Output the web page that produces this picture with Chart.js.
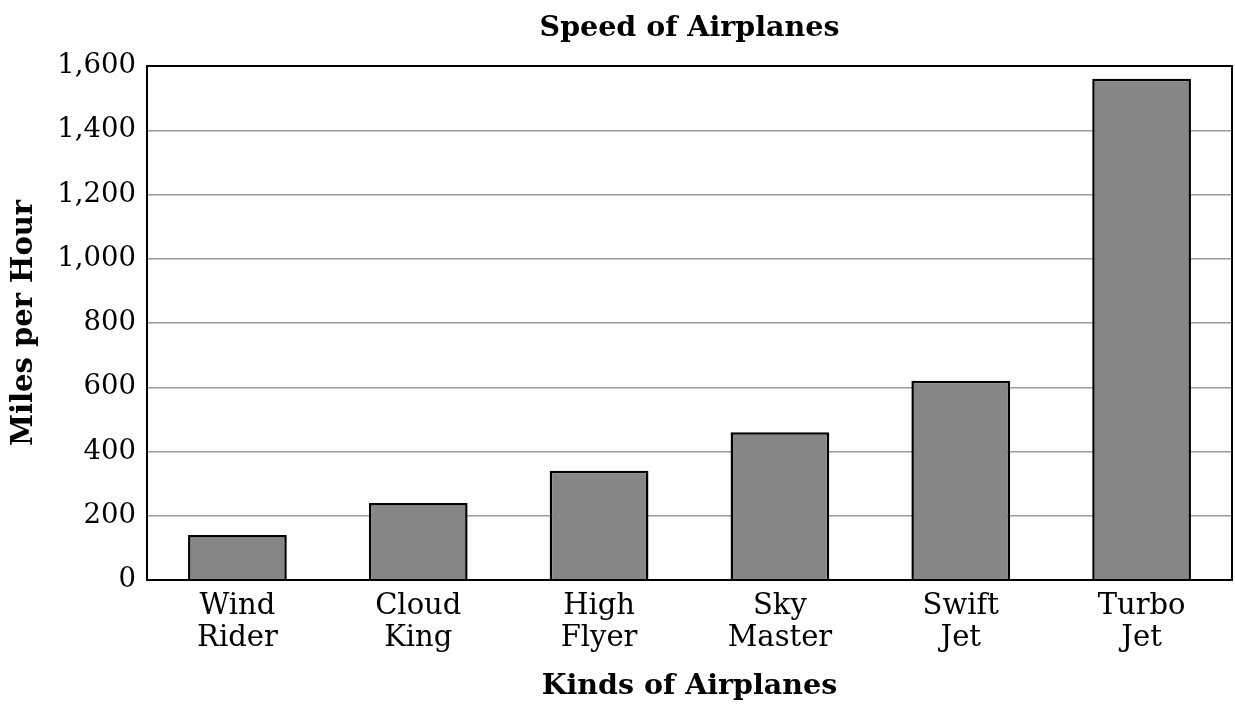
<!DOCTYPE html>
<html>
<head>
<meta charset="utf-8">
<script src="https://cdn.jsdelivr.net/npm/chart.js@4"></script>
<style>
  html, body { margin: 0; padding: 0; background: #ffffff; }
  #wrap { width: 1235px; height: 705px; position: relative; }
</style>
</head>
<body>
<div id="wrap"><canvas id="c" width="1235" height="705"></canvas></div>
<script>
const categories = [["Wind", "Rider"], ["Cloud", "King"], ["High", "Flyer"], ["Sky", "Master"], ["Swift", "Jet"], ["Turbo", "Jet"]];
const speeds = [140, 240, 340, 460, 620, 1560];
const yTicks = [0, 200, 400, 600, 800, 1000, 1200, 1400, 1600];
const chartTitle = "Speed of Airplanes";
const xTitle = "Kinds of Airplanes";
const yTitle = "Miles per Hour";

const FONT = "'DejaVu Serif', 'Liberation Serif', serif";

const framePlugin = {
  id: 'frame',
  afterDatasetsDraw(chart) {
    const a = chart.chartArea, ctx = chart.ctx;
    ctx.save();
    ctx.strokeStyle = '#000';
    ctx.lineWidth = 2;
    ctx.strokeRect(a.left, a.top, a.right - a.left, a.bottom - a.top);
    ctx.restore();
  }
};

new Chart(document.getElementById('c'), {
  type: 'bar',
  data: {
    labels: categories,
    datasets: [{
      data: speeds,
      backgroundColor: '#868686',
      borderColor: '#000000',
      borderWidth: 2.5,
      categoryPercentage: 1.0,
      barPercentage: 0.546
    }]
  },
  options: {
    responsive: false,
    animation: false,
    devicePixelRatio: 1,
    layout: { padding: { top: 6, right: 3, left: 0, bottom: 0 } },
    plugins: {
      legend: { display: false },
      tooltip: { enabled: false },
      title: {
        display: true,
        fullSize: false,
        text: chartTitle,
        color: '#000',
        font: { family: FONT, size: 28.5, weight: 'bold', lineHeight: 1.2 },
        padding: { top: 5, bottom: 20.8 }
      }
    },
    scales: {
      x: {
        afterFit(scale) { scale.height = 125; },
        grid: { display: false, drawTicks: false },
        border: { color: '#000', width: 2 },
        ticks: {
          color: '#000',
          font: { family: FONT, size: 29, lineHeight: 1.1 },
          padding: 11,
          maxRotation: 0,
          autoSkip: false
        },
        title: {
          display: true,
          text: xTitle,
          color: '#000',
          font: { family: FONT, size: 28.5, weight: 'bold', lineHeight: 1.2 },
          padding: { top: 4, bottom: 1 }
        }
      },
      y: {
        min: 0,
        max: 1600,
        afterFit(scale) { scale.width = 147; },
        afterBuildTicks(scale) { scale.ticks = yTicks.map(v => ({ value: v })); },
        grid: { color: '#9a9a9a', lineWidth: 1.5, drawTicks: false },
        border: { color: '#000', width: 2 },
        ticks: {
          color: '#000',
          font: { family: FONT, size: 27.5 },
          padding: 11,
          callback: (v) => Number(v).toLocaleString('en-US')
        },
        title: {
          display: true,
          text: yTitle,
          color: '#000',
          font: { family: FONT, size: 29, weight: 'bold', lineHeight: 1.2 },
          padding: { top: 7, bottom: 0 }
        }
      }
    }
  },
  plugins: [framePlugin]
});
</script>
</body>
</html>
